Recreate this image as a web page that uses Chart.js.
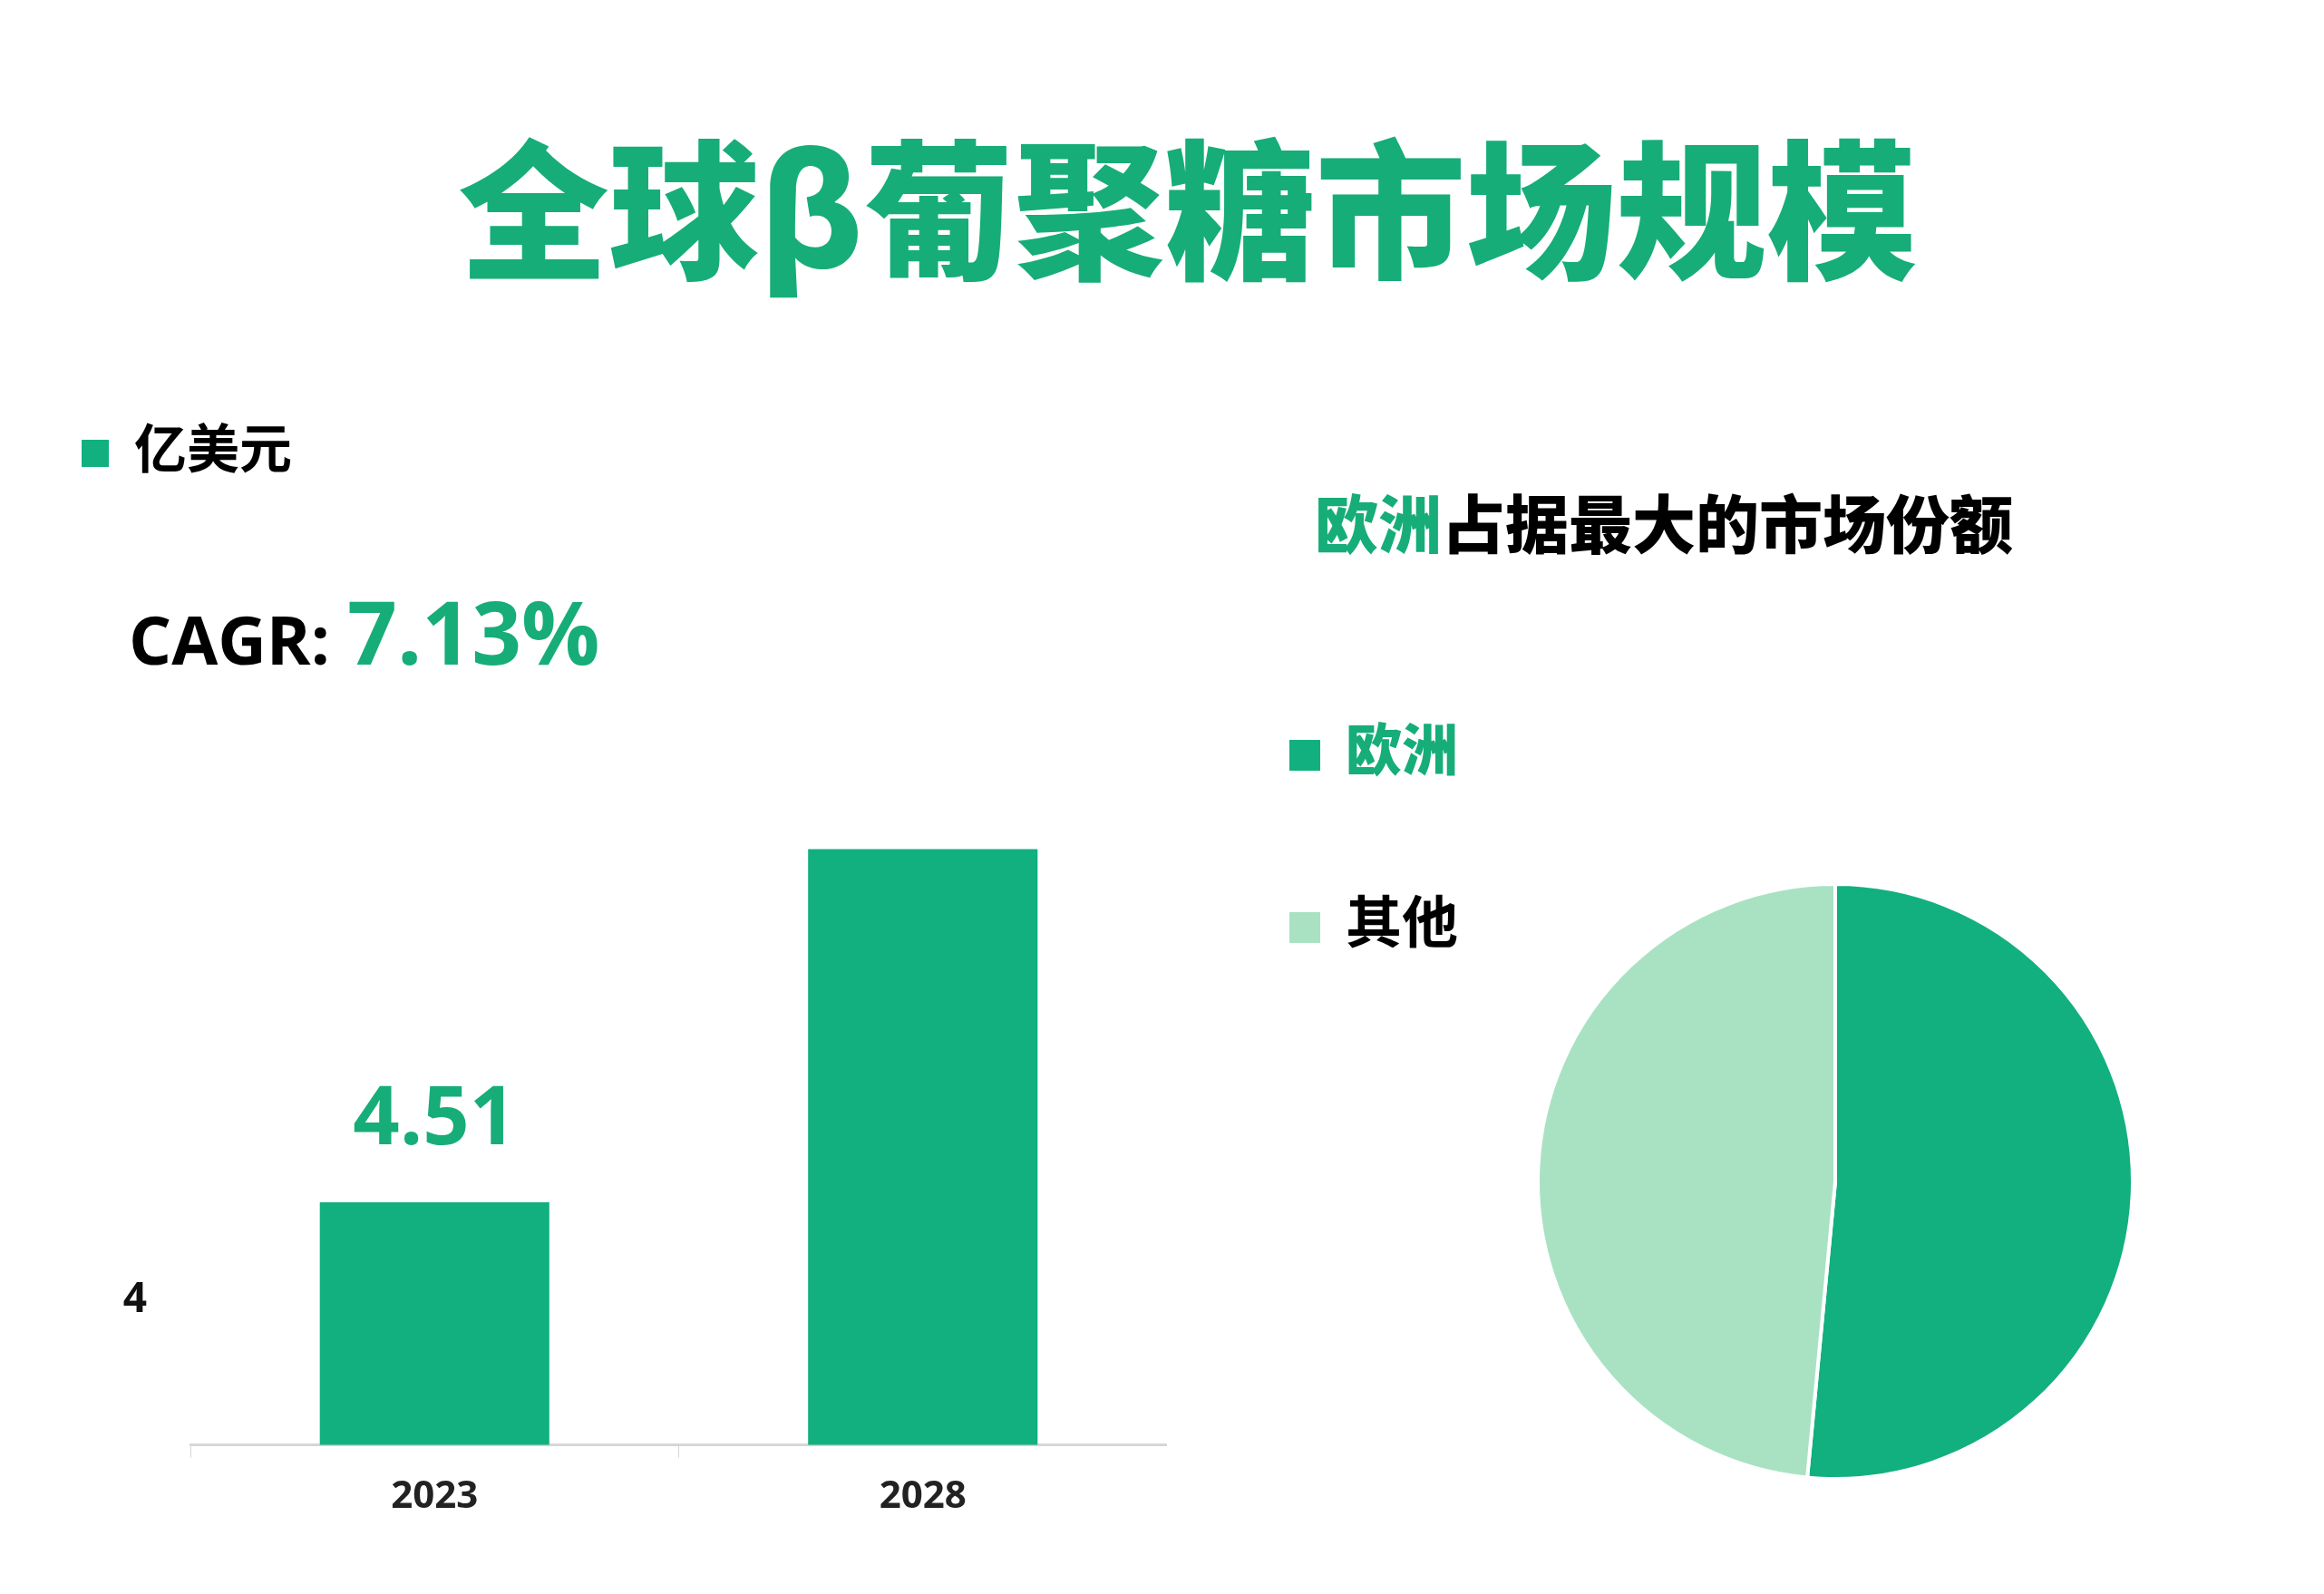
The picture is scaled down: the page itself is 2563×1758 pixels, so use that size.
<!DOCTYPE html>
<html>
<head>
<meta charset="utf-8">
<script src="https://cdn.jsdelivr.net/npm/chart.js@4"></script>
<style>
  body { margin: 0; background: #fff; font-family: "Noto Sans CJK SC", "Noto Sans", sans-serif; }
  #page { position: relative; width: 2563px; height: 1758px; overflow: hidden; }
  .abs { position: absolute; white-space: nowrap; }
  .green { color: #16ad79; }
  .sq { display: inline-block; width: 30px; height: 30px; margin-right: 28px; vertical-align: middle; }
</style>
</head>
<body>
<div id="page">
  <div class="abs green" style="left:0;width:2620px;top:140px;text-align:center;font-size:166px;font-weight:900;line-height:1;">全球β葡聚糖市场规模</div>

  <div class="abs" style="left:90px;top:449px;font-size:58px;font-weight:700;">
    <span class="sq" style="background:#12b07e"></span>亿美元
  </div>
  <div class="abs" style="left:142px;top:648px;font-weight:700;line-height:1;">
    <span style="font-size:74px;font-family:'Open Sans',sans-serif;">CAGR: </span><span class="green" style="font-size:96px;font-family:'Open Sans',sans-serif;">7.13%</span>
  </div>

  <div class="abs" style="left:1450px;top:524px;font-size:70px;font-weight:900;">
    <span class="green">欧洲</span>占据最大的市场份额
  </div>
  <div class="abs" style="left:1422px;top:778px;font-size:62px;font-weight:900;" >
    <span class="sq" style="background:#12b07e;width:34px;height:34px"></span><span class="green">欧洲</span>
  </div>
  <div class="abs" style="left:1422px;top:968px;font-size:62px;font-weight:700;">
    <span class="sq" style="background:#a9e2c3;width:34px;height:34px"></span>其他
  </div>

  <div class="abs" style="left:100px;top:734px;width:1187px;height:960px;"><canvas id="bar"></canvas></div>
  <div class="abs" style="left:1694px;top:973px;width:660px;height:660px;"><canvas id="pie"></canvas></div>
</div>
<script>
const years = ['2023', '2028'];
const marketSize = [4.51, 6.36];
const barLabels = ['4.51', ''];
const regions = ['欧洲', '其他'];
const regionShare = [51.5, 48.5];

const GREEN = '#12b07e';
const LIGHT = '#a9e2c3';

// value label above the 2023 bar
const barLabelPlugin = {
  id: 'barLabel',
  afterDatasetsDraw(chart) {
    const ctx = chart.ctx;
    const meta = chart.getDatasetMeta(0);
    ctx.save();
    ctx.fillStyle = '#16ad79';
    ctx.font = '700 90px "Open Sans", sans-serif';
    ctx.textAlign = 'center';
    ctx.textBaseline = 'bottom';
    meta.data.forEach((bar, i) => {
      if (barLabels[i]) ctx.fillText(barLabels[i], bar.x, bar.y - 45);
    });
    ctx.restore();
  }
};

new Chart(document.getElementById('bar'), {
  type: 'bar',
  data: {
    labels: years,
    datasets: [{ data: marketSize, backgroundColor: GREEN, barPercentage: 0.47, categoryPercentage: 1 }]
  },
  options: {
    responsive: true,
    maintainAspectRatio: false,
    animation: false,
    layout: { padding: { top: 0, right: 0 } },
    plugins: { legend: { display: false }, tooltip: { enabled: false } },
    scales: {
      x: {
        grid: { offset: true, drawOnChartArea: false, color: '#d6d6d6', tickLength: 14 },
        border: { color: '#d6d6d6', width: 3 },
        ticks: { color: '#222', font: { size: 42, weight: 'bold', family: 'Open Sans' }, padding: 18 }
      },
      y: {
        min: 3.24,
        max: 7,
        grid: { display: false },
        border: { display: false },
        afterFit(scale) { scale.width = 110; },
        ticks: {
          stepSize: 1,
          color: '#111',
          padding: 40,
          font: { size: 46, weight: 'bold', family: 'Open Sans' },
          callback: v => (v === 4 ? '4' : '')
        }
      }
    }
  },
  plugins: [barLabelPlugin]
});

new Chart(document.getElementById('pie'), {
  type: 'pie',
  data: {
    labels: regions,
    datasets: [{ data: regionShare, backgroundColor: [GREEN, LIGHT], borderColor: '#fff', borderWidth: 4 }]
  },
  options: {
    responsive: true,
    maintainAspectRatio: false,
    animation: false,
    plugins: { legend: { display: false }, tooltip: { enabled: false } }
  }
});
</script>
</body>
</html>
